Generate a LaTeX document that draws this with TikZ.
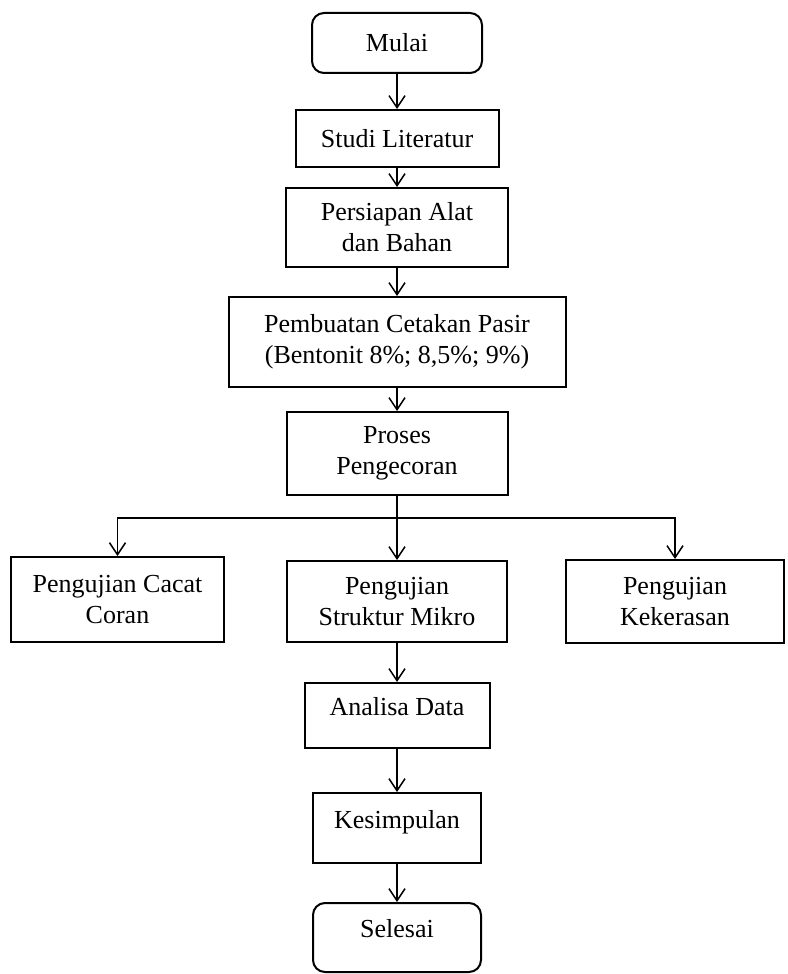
\documentclass[tikz,border=0pt]{standalone}
\usepackage{fontspec}
\setmainfont{Liberation Serif}
\usetikzlibrary{arrows.meta}
\tikzset{
  box/.style={draw,line width=1pt,align=center,inner sep=2pt,
    font=\fontsize{13pt}{15.5pt}\selectfont},
  endbox/.style={box,rounded corners=6pt},
  hightext/.style={text depth=9pt},
  flow/.style={line width=0.75pt,-{Straight Barb[length=6pt,width=8pt]}},
}
\newcommand{\flowbox}[6]{\node[#1,minimum width=#5pt,minimum height=#6pt] (#2) at (#3) {#4};}

\begin{document}
\begin{tikzpicture}[x=0.5pt,y=-0.5pt]
\useasboundingbox (0,0) rectangle (787,974);
% main chain
\flowbox{endbox}{mulai}{397,43}{Mulai}{85}{30}
\flowbox{box}{studi}{397,138.5}{Studi Literatur}{101.5}{28.5}
\flowbox{box}{persiapan}{397,227.5}{Persiapan Alat\\dan Bahan}{111}{39.5}
\flowbox{box}{cetakan}{397,342}{Pembuatan Cetakan Pasir\\(Bentonit 8\%; 8,5\%; 9\%)}{168.5}{45}
\flowbox{box}{proses}{397,453.5}{Proses\\Pengecoran}{110.5}{41.5}
\coordinate (bus) at (397,518);
% tests
\flowbox{box}{cacat}{117.5,599.5}{Pengujian Cacat\\Coran}{106.5}{42.5}
\flowbox{box}{mikro}{397,601.5}{Pengujian\\Struktur Mikro}{110}{40.5}
\flowbox{box}{keras}{675,601.5}{Pengujian\\Kekerasan}{109}{41.5}
% end
\flowbox{box,hightext}{analisa}{397,715.5}{Analisa Data}{92.5}{32.5}
\flowbox{box,hightext}{kesimpulan}{397,828}{Kesimpulan}{84}{35}
\flowbox{endbox,hightext}{selesai}{397,937.5}{Selesai}{84}{34.5}

\draw[flow] (mulai) -- (studi);
\draw[flow] (studi) -- (persiapan);
\draw[flow] (persiapan) -- (cetakan);
\draw[flow] (cetakan) -- (proses);
\draw[line width=0.75pt] (proses) -- (bus);
\draw[flow] (bus) -| (cacat);
\draw[flow] (bus) -- (mikro);
\draw[flow] (bus) -| (keras);
\draw[flow] (mikro) -- (analisa);
\draw[flow] (analisa) -- (kesimpulan);
\draw[flow] (kesimpulan) -- (selesai);
\end{tikzpicture}
\end{document}
